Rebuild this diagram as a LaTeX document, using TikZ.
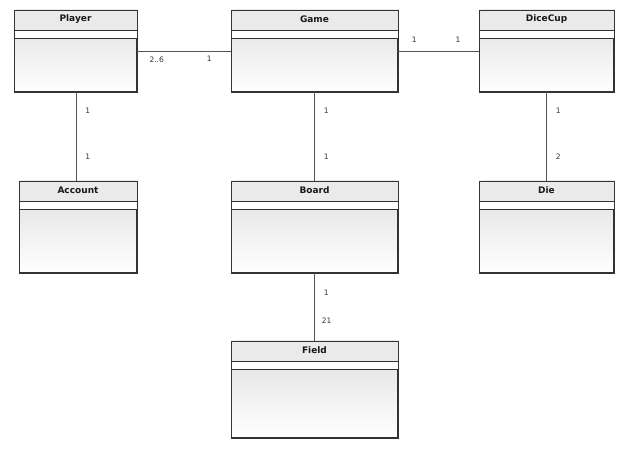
\documentclass[tikz,border=0pt]{standalone}
\usepackage{fontspec}
\setmainfont{DejaVu Sans}
\usetikzlibrary{calc,shadows}

\definecolor{boxline}{HTML}{333333}
\definecolor{headfill}{HTML}{EAEAEA}
\definecolor{bodytop}{HTML}{DEDEDE}
\definecolor{assocline}{HTML}{555555}

\tikzset{
  umlclass/.style={draw=boxline,line width=1pt,anchor=north west,inner sep=0pt,
    top color=bodytop,bottom color=white,
    drop shadow={shadow xshift=1.5pt,shadow yshift=1.5pt,fill=black!25,opacity=0.35}},
  classname/.style={font=\bfseries\fontsize{9}{10}\selectfont,text=black!90},
  mult/.style={font=\fontsize{7.5}{8}\selectfont,text=black!80,inner sep=1pt},
  assoc/.style={draw=assocline,line width=1pt}
}

\begin{document}
\begin{tikzpicture}[x=1pt,y=-1pt]
\useasboundingbox (0,0) rectangle (635,448);
% classes
\node[umlclass,minimum width=122pt,minimum height=81pt] (player) at (14,10) {};
\node[umlclass,minimum width=166pt,minimum height=81pt] (game) at (231,10) {};
\node[umlclass,minimum width=134pt,minimum height=81pt] (dicecup) at (479,10) {};
\node[umlclass,minimum width=117pt,minimum height=91pt] (account) at (19,181) {};
\node[umlclass,minimum width=166pt,minimum height=91pt] (board) at (231,181) {};
\node[umlclass,minimum width=134pt,minimum height=91pt] (die) at (479,181) {};
\node[umlclass,minimum width=166pt,minimum height=96pt] (field) at (231,341) {};
% headers and compartments
\foreach \c/\t in {player/Player,game/Game,dicecup/DiceCup,account/Account,board/Board,die/Die,field/Field}{
  \fill[headfill] ($(\c.north west)+(0.5,0.5)$) rectangle ($(\c.north east)+(-0.5,20)$);
  \fill[white] ($(\c.north west)+(0.5,20)$) rectangle ($(\c.north east)+(-0.5,28)$);
  \draw[boxline,line width=1pt] (\c.north west) rectangle (\c.south east);
  \draw[boxline,line width=1pt] ($(\c.north west)+(0,20)$) -- ($(\c.north east)+(0,20)$);
  \draw[boxline,line width=1pt] ($(\c.north west)+(0,28)$) -- ($(\c.north east)+(0,28)$);
  \node[classname] (\c-name) at ($(\c.north)+(0,9)$) {\t};
}
% associations
\draw[assoc] (player.east) -- (game.west)
  node[mult,pos=0.21,below=4pt] (m1) {2..6}
  node[mult,pos=0.77,below=4pt] (m2) {1};
\draw[assoc] (game.east) -- (dicecup.west)
  node[mult,pos=0.2,above=7pt] (m3) {1}
  node[mult,pos=0.74,above=7pt] (m4) {1};
\draw[assoc,line width=0.8pt] (player.south -| 76,0) -- (account.north -| 76,0)
  node[mult,pos=0.21,right=8pt] (m5) {1}
  node[mult,pos=0.73,right=8pt] (m6) {1};
\draw[assoc,line width=0.8pt] (game.south) -- (board.north)
  node[mult,pos=0.21,right=8pt] (m7) {1}
  node[mult,pos=0.73,right=8pt] (m8) {1};
\draw[assoc,line width=0.8pt] (dicecup.south) -- (die.north)
  node[mult,pos=0.21,right=8pt] (m9) {1}
  node[mult,pos=0.73,right=8pt] (m10) {2};
\draw[assoc,line width=0.8pt] (board.south) -- (field.north)
  node[mult,pos=0.29,right=8pt] (m11) {1}
  node[mult,pos=0.70,right=6pt] (m12) {21};
\end{tikzpicture}
\end{document}
